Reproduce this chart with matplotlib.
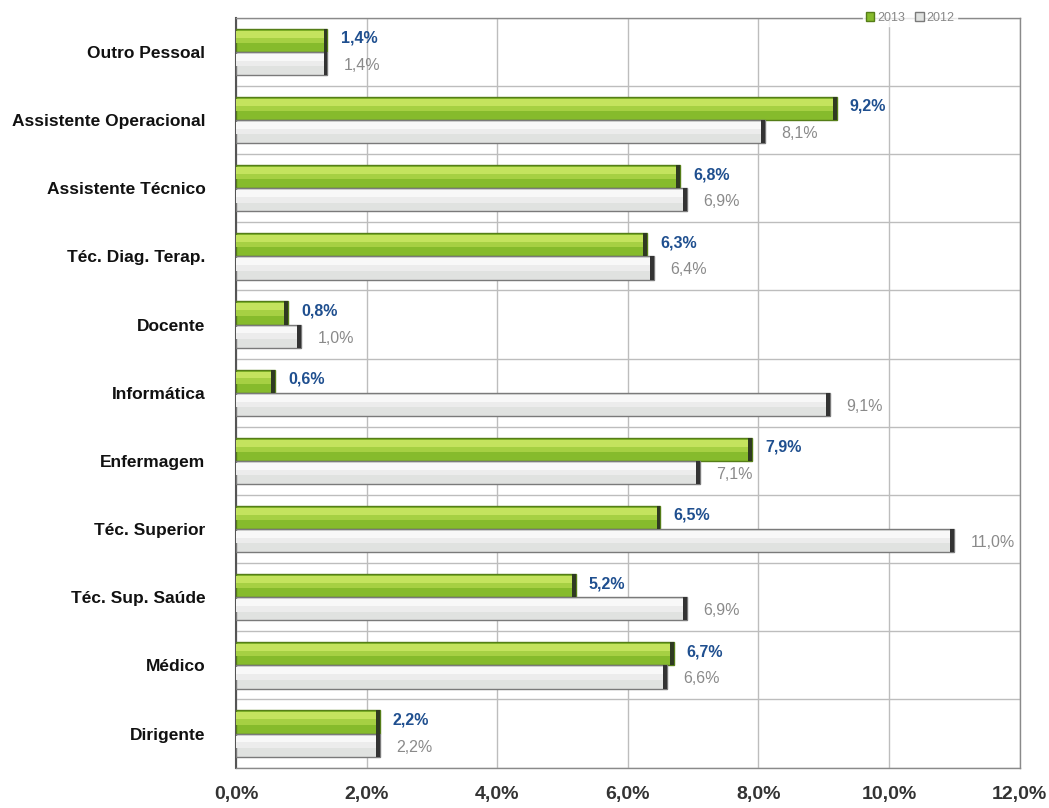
import matplotlib
matplotlib.use("Agg")
import matplotlib.pyplot as plt
import numpy as np

plt.rcParams['font.family'] = ['Liberation Sans', 'DejaVu Sans']

categorias = ["Outro Pessoal", "Assistente Operacional", "Assistente Técnico",
              "Téc. Diag. Terap.", "Docente", "Informática", "Enfermagem",
              "Téc. Superior", "Téc. Sup. Saúde", "Médico", "Dirigente"]
v2013 = [1.4, 9.2, 6.8, 6.3, 0.8, 0.6, 7.9, 6.5, 5.2, 6.7, 2.2]
v2012 = [1.4, 8.1, 6.9, 6.4, 1.0, 9.1, 7.1, 11.0, 6.9, 6.6, 2.2]
xticks = [0, 2, 4, 6, 8, 10, 12]

def pct(v):
    return ("%.1f%%" % v).replace(".", ",")

fig = plt.figure(figsize=(10.49, 8.08), dpi=100)
ax = fig.add_axes([0.225, 0.05, 0.747, 0.928])

y = np.arange(len(categorias))
h = 0.34
ax.barh(y - 0.17, v2013, height=h, color='#86bb2c', edgecolor='#557d18', linewidth=1.0, label='2013', zorder=3)
ax.barh(y + 0.17, v2012, height=h, color='#e0e2e0', edgecolor='#7a7a7a', linewidth=1.0, label='2012', zorder=3)
# lighter top part of each bar (gradient look)
ax.barh(y - 0.26, v2013, height=0.1, color='#c4e35e', linewidth=0, zorder=4)
ax.barh(y - 0.17, v2013, height=0.08, color='#a6d043', linewidth=0, zorder=4)
ax.barh(y + 0.08, v2012, height=0.1, color='#f8f8f8', linewidth=0, zorder=4)
ax.barh(y + 0.17, v2012, height=0.08, color='#ececec', linewidth=0, zorder=4)
# dark end caps
ax.barh(y - 0.17, [0.06] * len(y), left=np.array(v2013) - 0.06, height=h, color='#2f3a22', linewidth=0, zorder=5)
ax.barh(y + 0.17, [0.06] * len(y), left=np.array(v2012) - 0.06, height=h, color='#333333', linewidth=0, zorder=5)

for i in range(len(categorias)):
    ax.text(v2013[i] + 0.2, y[i] - 0.2, pct(v2013[i]), color='#1f4f8f', fontsize=11.5,
            fontweight='bold', va='center', ha='left')
    ax.text(v2012[i] + 0.25, y[i] + 0.2, pct(v2012[i]), color='#8a8a8a', fontsize=11.5,
            va='center', ha='left')

ax.set_xlim(0, 12)
ax.set_ylim(len(categorias) - 0.5, -0.5)
ax.set_xticks(xticks)
ax.set_xticklabels([pct(t) for t in xticks], fontsize=14, fontweight='bold', color='#333333')
ax.set_yticks(y)
ax.set_yticklabels(categorias, fontsize=12.5, fontweight='bold', color='#111111')
ax.tick_params(axis='x', length=0, pad=13)
ax.tick_params(axis='y', length=0, pad=22)

ax.set_yticks(np.arange(len(categorias) + 1) - 0.5, minor=True)
ax.tick_params(axis='y', which='minor', length=0)
ax.grid(axis='x', color='#bdbdbd', linewidth=1, zorder=0)
ax.grid(axis='y', which='minor', color='#bdbdbd', linewidth=1, zorder=0)
ax.grid(axis='y', which='major', visible=False)
for s in ax.spines.values():
    s.set_color('#8a8a8a')
    s.set_linewidth(1)
ax.spines['left'].set_color('#555555')
ax.spines['left'].set_linewidth(1.5)

leg = ax.legend(loc='center', bbox_to_anchor=(0.86, 1.0), ncol=2, fontsize=9,
                frameon=True, handlelength=0.7, handleheight=0.7, handletextpad=0.2,
                columnspacing=0.8, borderpad=0.2, labelcolor='#888888')
leg.get_frame().set_facecolor('white')
leg.get_frame().set_edgecolor('white')
leg.set_zorder(10)

fig.savefig("out.png", dpi=100, facecolor='white')
